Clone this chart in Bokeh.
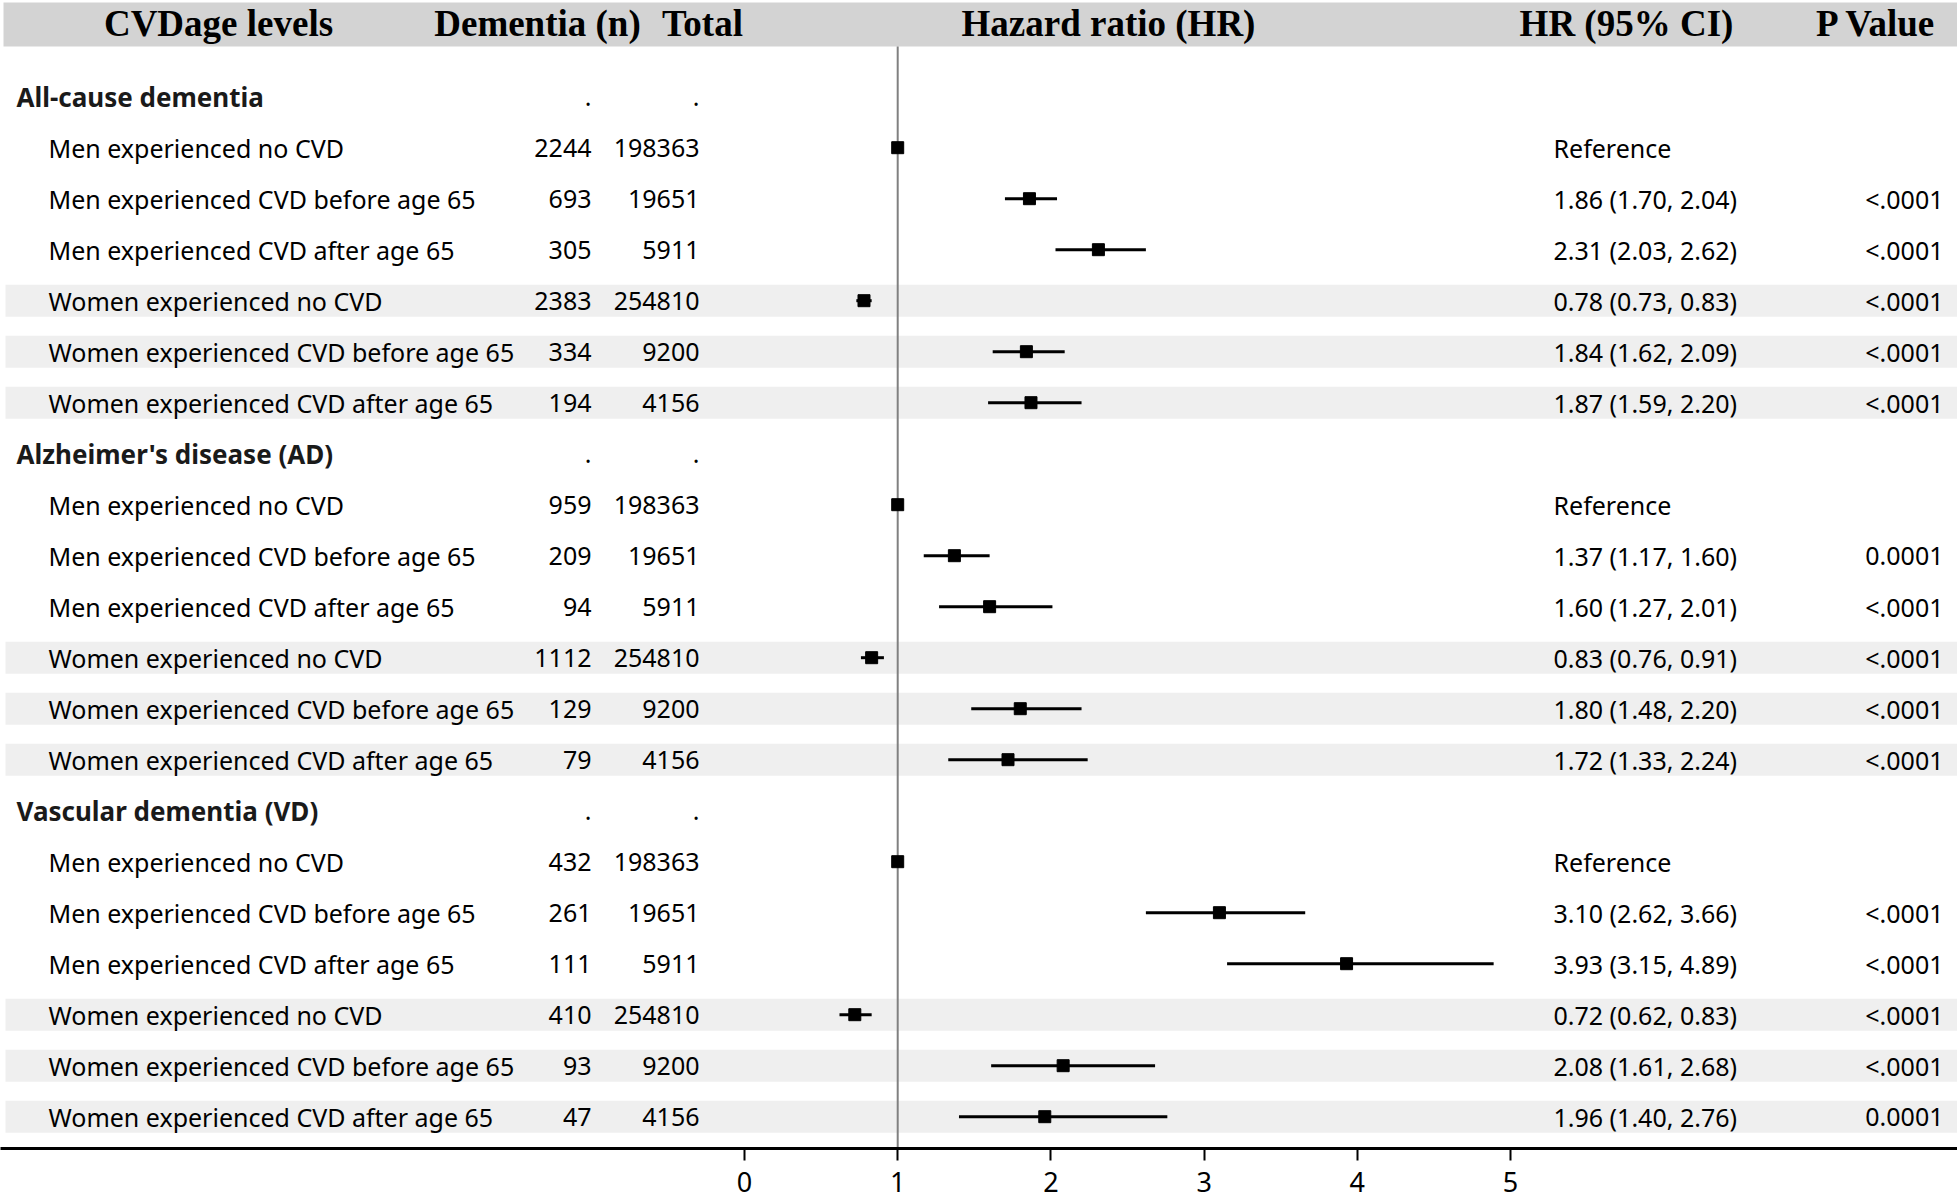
from bokeh.plotting import figure
from bokeh.models import Range1d, FixedTicker
from bokeh.core.properties import value
from bokeh.embed import file_html
from bokeh.resources import INLINE

# ---------------- data ----------------
sections = ["All-cause dementia", "Alzheimer's disease (AD)", "Vascular dementia (VD)"]
groups = ["Men experienced no CVD", "Men experienced CVD before age 65",
          "Men experienced CVD after age 65", "Women experienced no CVD",
          "Women experienced CVD before age 65", "Women experienced CVD after age 65"]
totals = [198363, 19651, 5911, 254810, 9200, 4156]

cases_acd = [2244, 693, 305, 2383, 334, 194]
cases_ad = [959, 209, 94, 1112, 129, 79]
cases_vd = [432, 261, 111, 410, 93, 47]

hr_acd = [1.00, 1.86, 2.31, 0.78, 1.84, 1.87]
lo_acd = [None, 1.70, 2.03, 0.73, 1.62, 1.59]
hi_acd = [None, 2.04, 2.62, 0.83, 2.09, 2.20]

hr_ad = [1.00, 1.37, 1.60, 0.83, 1.80, 1.72]
lo_ad = [None, 1.17, 1.27, 0.76, 1.48, 1.33]
hi_ad = [None, 1.60, 2.01, 0.91, 2.20, 2.24]

hr_vd = [1.00, 3.10, 3.93, 0.72, 2.08, 1.96]
lo_vd = [None, 2.62, 3.15, 0.62, 1.61, 1.40]
hi_vd = [None, 3.66, 4.89, 0.83, 2.68, 2.76]

p_acd = ["", "<.0001", "<.0001", "<.0001", "<.0001", "<.0001"]
p_ad = ["", "0.0001", "<.0001", "<.0001", "<.0001", "<.0001"]
p_vd = ["", "<.0001", "<.0001", "<.0001", "<.0001", "0.0001"]

headers = ["CVDage levels", "Dementia (n)", "Total", "Hazard ratio (HR)", "HR (95% CI)", "P Value"]
x_ticks = [0, 1, 2, 3, 4, 5]

cases_all = [cases_acd, cases_ad, cases_vd]
hr_all = [hr_acd, hr_ad, hr_vd]
lo_all = [lo_acd, lo_ad, lo_vd]
hi_all = [hi_acd, hi_ad, hi_vd]
p_all = [p_acd, p_ad, p_vd]

# ---------------- layout helpers ----------------
FW, FH = 1957, 1148
X0PX, UNIT = 744.0, 153.2      # px of HR=0, px per HR unit
ROW0, ROWH = 96.2, 51.0        # px of first row centre, row spacing


def X(px):
    return (px - X0PX) / UNIT


def Y(py):
    return (py - ROW0) / ROWH


p = figure(frame_width=FW, frame_height=FH, output_backend="svg", toolbar_location=None,
           x_range=Range1d(X(0), X(FW)),
           y_range=Range1d(Y(FH), Y(0)),
           y_axis_location=None, x_axis_location="below")
p.min_border = 0
p.min_border_left = 0
p.min_border_right = 0
p.min_border_top = 0
p.min_border_bottom = 50
p.outline_line_color = None
p.grid.visible = False
p.background_fill_color = "white"
p.border_fill_color = "white"

SANS = value("Noto Sans")
SERIF = value("Liberation Serif")
FS = value("25px")

# header band
p.quad(left=[X(3)], right=[X(1960)], top=[Y(2)], bottom=[Y(46)],
       fill_color="#d3d3d3", line_color=None)

# build rows
rows_y, labels, ncol, tcol, ci_txt, pcol = [], [], [], [], [], []
sec_y = []
band_y = []
pt_y, pt_x = [], []
ci_y, ci_lo, ci_hi = [], [], []
for s, sec in enumerate(sections):
    base = 7 * s
    sec_y.append(base)
    for g, grp in enumerate(groups):
        y = base + 1 + g
        rows_y.append(y)
        labels.append(grp)
        ncol.append(str(cases_all[s][g]))
        tcol.append(str(totals[g]))
        h, lo, hi = hr_all[s][g], lo_all[s][g], hi_all[s][g]
        if lo is None:
            ci_txt.append("Reference")
        else:
            ci_txt.append(f"{h:.2f} ({lo:.2f}, {hi:.2f})")
            ci_y.append(y); ci_lo.append(lo); ci_hi.append(hi)
        pcol.append(p_all[s][g])
        pt_y.append(y); pt_x.append(h)
        if grp.startswith("Women"):
            band_y.append(y)

# women bands
p.hbar(y=band_y, height=32 / ROWH, left=X(5), right=X(1957),
       fill_color="#efefef", line_color=None)

# reference line at HR = 1
p.segment(x0=[1], y0=[Y(46)], x1=[1], y1=[Y(1149)], line_color="#808080", line_width=2)

# CI and points
p.segment(x0=ci_lo, y0=ci_y, x1=ci_hi, y1=ci_y, line_color="black", line_width=3)
p.scatter(x=pt_x, y=pt_y, marker="square", size=12, fill_color="black", line_color="black")

# headers (bold serif)
hdr_x = [X(218), X(537), X(702), X(1108), X(1626), X(1876)]
p.text(x=hdr_x, y=[Y(23)] * len(headers), text=headers, text_font=SERIF,
       text_font_style="bold", text_font_size=value("37px"), text_align="center",
       text_baseline="middle", text_color="black")

# section titles and dots
p.text(x=[X(16)] * 3, y=sec_y, text=sections, text_font=SANS, text_font_style="bold",
       text_font_size=value("26px"), text_align="left", text_baseline="middle",
       text_color="#1a1a1a")
p.text(x=[X(591)] * 3 + [X(699)] * 3, y=sec_y * 2, text=["."] * 6,
       text_font=SANS, text_font_size=FS, text_align="right", text_baseline="middle",
       text_color="black")

ry = rows_y
p.text(x=[X(48)] * len(ry), y=ry, text=labels, text_font=SANS, text_font_size=FS,
       text_align="left", text_baseline="middle", text_color="black")
p.text(x=[X(591)] * len(ry), y=ry, text=ncol, text_font=SANS, text_font_size=FS,
       text_align="right", text_baseline="middle", text_color="black")
p.text(x=[X(699)] * len(ry), y=ry, text=tcol, text_font=SANS, text_font_size=FS,
       text_align="right", text_baseline="middle", text_color="black")
p.text(x=[X(1553)] * len(ry), y=ry, text=ci_txt, text_font=SANS, text_font_size=FS,
       text_align="left", text_baseline="middle", text_color="black")
p.text(x=[X(1943)] * len(ry), y=ry, text=pcol, text_font=SANS, text_font_size=FS,
       text_align="right", text_baseline="middle", text_color="black")

# x axis
ax = p.xaxis[0]
ax.ticker = FixedTicker(ticks=x_ticks)
ax.axis_line_width = 3
ax.axis_line_color = "black"
ax.major_tick_in = 0
ax.major_tick_out = 12
ax.major_tick_line_width = 2
ax.major_tick_line_color = "black"
ax.minor_tick_line_color = None
ax.major_label_text_font = "Noto Sans"
ax.major_label_text_font_size = "27px"
ax.major_label_text_color = "black"
ax.major_label_standoff = 11

open("out.html", "w").write(file_html(p, INLINE))
